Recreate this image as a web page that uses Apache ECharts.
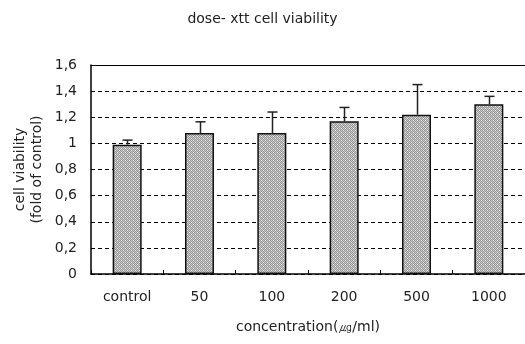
<!DOCTYPE html>
<html><head><meta charset="utf-8">
<script src="https://cdn.jsdelivr.net/npm/echarts@6/dist/echarts.min.js"></script>
<style>html,body{margin:0;padding:0;background:#fff}#c{width:525px;height:344px}</style>
</head><body><div id="c"></div>
<script>
const categories = ['control', '50', '100', '200', '500', '1000'];
const viability = [0.99, 1.08, 1.08, 1.17, 1.22, 1.30];
const errorTop = [1.025, 1.165, 1.24, 1.275, 1.45, 1.36];

const pc = document.createElement('canvas');
pc.width = 4; pc.height = 4;
const g = pc.getContext('2d');
g.fillStyle = '#cccccc'; g.fillRect(0, 0, 4, 4);
g.fillStyle = '#929292';
g.fillRect(0, 0, 1, 1); g.fillRect(2, 0, 1, 1); g.fillRect(1, 1, 1, 1); g.fillRect(3, 1, 1, 1);
g.fillRect(0, 2, 1, 1); g.fillRect(2, 2, 1, 1); g.fillRect(1, 3, 1, 1); g.fillRect(3, 3, 1, 1);
g.fillStyle = '#f4f4f4';
g.fillRect(1, 0, 1, 1); g.fillRect(3, 2, 1, 1);

const font = '"DejaVu Sans", "Liberation Sans", sans-serif';
const txt = '#222';
const chart = echarts.init(document.getElementById('c'), null, {renderer: 'canvas'});
chart.setOption({
  animation: false,
  backgroundColor: '#fff',
  title: {
    text: 'dose- xtt cell viability', left: 'center', top: 7,
    textStyle: {fontFamily: font, fontSize: 14, fontWeight: 'normal', color: txt}
  },
  grid: {left: 91, right: 0, top: 65, bottom: 70},
  xAxis: [{
    type: 'category', data: categories,
    axisLine: {lineStyle: {color: '#000', width: 1.5}},
    axisTick: {show: true, inside: true, length: 4, lineStyle: {color: '#000'}},
    axisLabel: {fontFamily: font, fontSize: 14, color: txt, margin: 16},
    name: 'concentration(㎍/ml)', nameLocation: 'middle', nameGap: 46,
    nameTextStyle: {fontFamily: font, fontSize: 14, color: txt}
  }, {
    type: 'category', data: categories, position: 'top',
    axisLine: {show: true, lineStyle: {color: '#000', width: 1.2}},
    axisTick: {show: false}, axisLabel: {show: false}
  }],
  yAxis: {
    type: 'value', min: 0, max: 1.6, interval: 0.2,
    axisLine: {show: true, lineStyle: {color: '#000', width: 1.5}},
    axisTick: {show: false},
    axisLabel: {
      fontFamily: font, fontSize: 14, color: txt, margin: 14,
      formatter: v => String(Math.round(v * 10) / 10).replace('.', ',')
    },
    splitLine: {show: true, lineStyle: {color: '#000', type: [4, 3], width: 1}},
    name: 'cell viability\n(fold of control)', nameLocation: 'middle', nameGap: 45,
    nameMoveOverlap: false,
    nameTextStyle: {fontFamily: font, fontSize: 14, color: txt, lineHeight: 17}
  },
  series: [{
    type: 'bar', data: viability, barWidth: 29,
    itemStyle: {color: {image: pc, repeat: 'repeat'}, borderColor: '#111', borderWidth: 1.5}
  }, {
    type: 'custom',
    data: viability.map((v, i) => [i, v, errorTop[i]]),
    renderItem: function (params, api) {
      const base = api.coord([api.value(0), api.value(1)]);
      const top = api.coord([api.value(0), api.value(2)]);
      const x = Math.round(base[0]) + 0.5;
      return {
        type: 'group',
        children: [
          {type: 'line', shape: {x1: x, y1: base[1], x2: x, y2: top[1]}, style: {stroke: '#222', lineWidth: 1.5}},
          {type: 'line', shape: {x1: x - 5, y1: top[1], x2: x + 5, y2: top[1]}, style: {stroke: '#222', lineWidth: 1.5}}
        ]
      };
    },
    z: 5
  }]
});
</script></body></html>
